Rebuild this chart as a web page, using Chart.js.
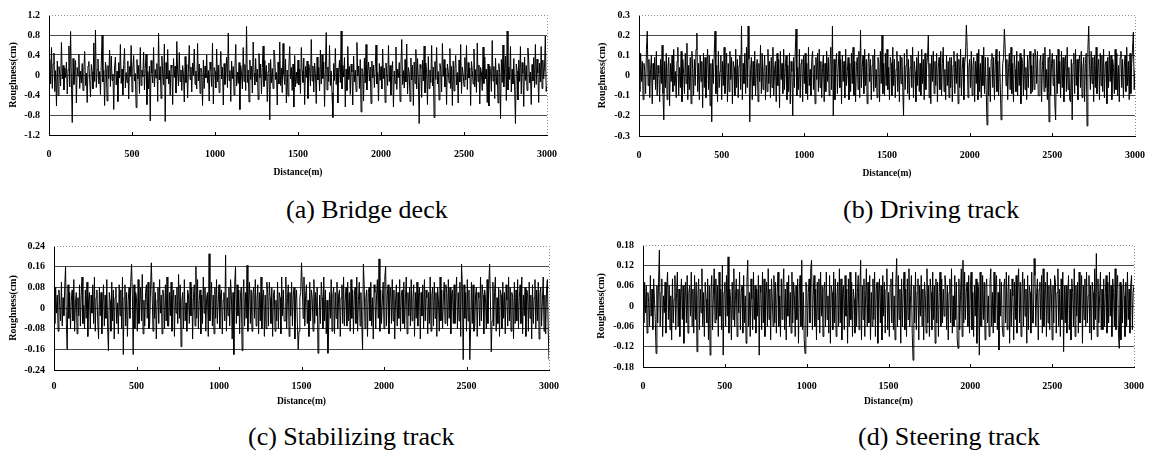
<!DOCTYPE html>
<html>
<head>
<meta charset="utf-8">
<script src="https://cdn.jsdelivr.net/npm/chart.js@4.4.1/dist/chart.umd.min.js"></script>
<style>
html, body { margin: 0; padding: 0; background: #fff; }
#page { position: relative; width: 1161px; height: 456px; overflow: hidden; }
canvas { position: absolute; }
.cap { position: absolute; font-family: 'Liberation Serif', 'Times New Roman', serif; font-size: 26px; line-height: 30px; white-space: nowrap; color: #000; }
</style>
</head>
<body>
<div id="page">
  <canvas id="chartA" width="570" height="185" style="left:0px;top:0px"></canvas>
  <canvas id="chartB" width="569" height="186" style="left:589px;top:0px"></canvas>
  <canvas id="chartC" width="569" height="189" style="left:0px;top:231px"></canvas>
  <canvas id="chartD" width="569" height="187" style="left:588px;top:230px"></canvas>
  <div class="cap" style="left:286px;top:195px">(a) Bridge deck</div>
  <div class="cap" style="left:843px;top:195px">(b) Driving track</div>
  <div class="cap" style="left:248px;top:422px">(c) Stabilizing track</div>
  <div class="cap" style="left:858px;top:422px">(d) Steering track</div>
</div>
<script>
// sampling grid, every 5 m from 0 to 3000 m
const distance = Array.from({ length: 601 }, (_, i) => i * 5);
const xTicks = [0, 500, 1000, 1500, 2000, 2500, 3000];

// roughness (cm)
const bridgeDeck = [
  .12,.31,-.18,.55,-.27,.22,.44,-.33,.09,-.62,.28,-.41,.17,.02,-.22,.65,-.08,.19,-.30,.14,
  -.05,.26,-.38,.11,.58,-.24,.87,-.12,-.95,.33,-.19,.07,.29,-.56,.15,-.02,.41,-.27,.08,-.16,
  .23,-.31,.12,.47,-.21,.04,-.55,.18,.27,-.09,-.44,.21,.06,-.28,.64,-.13,.90,-.25,.11,.32,
  -.18,.07,-.39,.24,.80,-.14,.09,-.61,.26,.13,-.52,.19,-.07,.50,-.23,.38,-.11,.02,-.69,.16,
  .36,-.20,.08,-.53,.25,-.06,.61,-.17,.12,-.40,.21,.53,-.26,.05,-.15,.28,-.48,.17,-.03,.59,
  -.34,.14,.39,-.12,.03,-.65,.31,-.08,.19,-.37,.55,-.21,.10,-.04,.46,-.30,.13,.42,-.59,.07,
  -.28,.18,-.92,.29,.04,-.16,.55,-.24,.11,-.06,.23,-.53,.84,-.10,.17,-.47,.38,.02,-.20,.62,
  -.93,.25,-.08,.51,-.18,.09,-.41,.20,.14,-.59,.33,-.05,.18,-.36,.67,.06,-.22,.45,-.13,.10,
  -.31,.19,.03,-.54,.37,-.15,.21,-.46,.12,.59,-.09,.16,-.34,.24,-.01,.52,-.19,.08,-.28,.63,
  -.12,.22,-.37,.14,.05,-.61,.30,-.27,.18,-.06,.40,-.16,.09,-.52,.26,.11,-.23,.64,-.58,.15,
  .07,-.26,.52,-.14,.20,-.35,.11,.47,-.08,.16,-.60,.23,-.19,.04,.36,-.25,.84,-.11,.09,-.53,
  .28,-.07,.17,-.40,.13,.61,-.22,.06,-.17,.25,-.69,.19,.02,-.28,.55,-.13,.21,-.31,.97,-.15,
  .10,-.54,.30,-.09,.18,-.36,.66,.04,-.20,.33,-.14,.12,-.49,.43,-.06,.22,-.38,.15,.58,-.23,
  .29,-.11,.19,-.53,.07,.24,-.90,.31,-.16,.13,-.27,.50,.37,-.09,.05,-.60,.26,-.18,.66,-.21,
  .14,-.35,.63,.01,-.19,.32,-.56,.10,-.42,.18,.57,-.08,.15,-.31,.22,-.64,.39,-.24,.06,-.17,
  .30,-.20,.12,-.37,.55,.08,-.15,.34,-.59,.17,-.05,.28,-.47,.21,.09,-.22,.71,-.12,.18,-.34,
  .24,.03,-.57,.36,-.10,.15,-.32,.50,-.18,.41,-.07,.26,-.63,.11,.85,-.30,.16,-.13,.59,-.21,
  .08,-.36,-.85,.23,-.11,.53,-.19,.14,-.56,.05,.30,-.15,.88,-.28,.19,-.04,.35,-.64,.12,-.31,
  .57,-.09,.17,-.39,.22,.06,-.60,.38,-.14,.10,-.33,.65,-.02,.18,-.27,.31,-.74,.13,.07,-.52,
  .34,-.16,.61,-.30,.09,.26,-.12,.16,-.57,.28,-.06,.20,-.25,.13,.60,-.18,.05,-.52,.23,-.11,
  .17,-.28,.52,-.07,.14,-.55,.24,.02,-.21,.59,-.13,.19,-.40,.11,.27,-.64,.08,-.17,.56,-.29,
  .12,-.05,.25,-.53,.18,.71,-.19,.09,-.26,.31,-.14,.62,-.38,.15,.04,-.53,.34,-.10,.20,-.61,
  .26,-.17,.51,-.28,.33,-.08,-.97,.21,.13,-.45,.30,-.12,.58,-.36,.24,.06,-.59,.37,-.27,.10,
  -.15,.59,-.22,.16,-.85,.27,-.09,.55,-.18,.07,-.50,.23,.12,-.34,.63,-.03,.31,-.24,.14,-.59,
  .22,.08,-.16,.53,-.27,.17,-.61,.28,-.32,.13,.39,-.20,.05,-.56,.30,-.14,.61,-.37,.16,.02,
  -.23,.35,-.10,.59,-.29,.25,-.06,.14,-.61,.27,.09,-.18,.52,-.24,.11,-.35,.64,-.13,.20,-.58,
  .15,.04,-.31,.56,-.17,.36,-.08,.12,-.55,.22,-.62,.18,.07,-.33,.69,-.12,.17,-.47,.34,-.19,
  .10,-.56,.23,.05,-.87,.31,-.15,.60,-.24,.13,.38,-.51,.88,-.30,.16,-.09,.57,-.34,.12,-.18,
  .33,-.26,-.97,.22,.08,-.50,.30,-.13,.57,-.38,.25,.03,-.63,.36,-.11,.19,-.31,.54,.28,-.16,
  .06,-.59,.21,-.12,.35,-.25,.61,-.19,.32,.04,-.55,.24,-.14,.57,-.27,.30,-.08,.15,.78,-.33,
  -.22
];
const drivingTrack = [
  .04,-.08,.11,-.03,.07,-.12,.06,.02,-.09,.13,.22,-.05,.08,-.11,.03,.10,-.14,.06,-.02,.09,
  -.07,.12,-.10,.05,.01,-.13,.08,-.04,.15,-.09,-.22,.07,-.06,.11,-.12,.04,.09,-.15,.06,-.03,
  .10,-.08,.13,-.05,.02,-.11,.07,.14,-.10,.04,-.06,.12,-.13,.08,.01,-.09,.11,-.04,.16,-.12,
  .05,-.07,.09,-.14,.12,.03,-.10,.08,-.05,.13,.21,-.08,.06,-.12,.10,-.03,.07,-.16,.11,-.06,
  .09,-.11,.04,.13,-.07,.10,-.15,.06,-.23,.08,-.04,.11,.22,-.09,.05,-.13,.12,-.06,.02,.10,
  -.12,.07,-.05,.14,-.09,.03,.11,-.13,.06,-.08,.12,-.02,.09,-.14,.07,.04,-.10,.13,-.06,.08,
  -.11,.05,.10,-.07,.245,-.12,.06,-.04,.11,-.09,.14,-.06,.245,.08,-.23,.03,.09,-.12,.07,-.05,
  .12,-.10,.04,.08,-.13,.06,-.03,.15,-.09,.11,-.07,.02,.10,-.12,.05,-.08,.13,-.04,.07,-.11,
  .09,-.06,.14,-.10,.03,.07,-.13,.11,-.05,.08,-.16,.12,-.02,.06,-.09,.13,-.07,.04,.10,-.12,
  .05,-.08,.11,-.14,.07,.02,-.20,.09,-.06,.12,.23,-.10,.04,-.07,.13,-.11,.06,.08,-.13,.10,
  -.04,.11,-.09,.06,-.12,.14,-.05,.03,-.10,.08,.12,-.07,.05,-.14,.09,-.02,.11,-.08,.13,-.06,
  .07,-.11,.04,.10,-.13,.06,-.08,.12,-.03,.09,-.10,.05,.14,-.07,.245,-.20,.08,-.12,.06,.11,
  -.09,.04,.12,-.06,.08,-.14,.10,-.03,.07,-.11,.13,-.05,.02,.09,-.12,.06,-.08,.11,-.04,.14,
  -.10,.07,-.13,.05,.09,-.07,.12,-.11,.225,-.06,.04,.10,-.09,.13,-.05,.08,-.14,.06,.11,-.03,
  .08,-.12,.05,.10,-.08,.13,-.06,.03,-.11,.09,.07,-.13,.12,-.04,.20,-.09,.06,-.10,.11,-.05,
  .13,-.07,.04,-.12,.09,.06,-.10,.14,-.05,.08,-.11,.03,.12,-.08,.07,-.13,.10,-.04,.09,-.06,
  -.20,.11,-.07,.05,.13,-.09,.08,-.12,.04,.10,-.06,.14,-.11,.07,.02,-.13,.09,-.05,.12,-.08,
  .06,-.10,.13,-.04,.08,-.12,.11,-.07,.05,.09,.20,-.11,.06,-.14,.10,-.03,.12,-.09,.07,-.05,
  .11,-.13,.04,.09,-.07,.12,-.10,.06,.14,-.08,.03,-.12,.10,-.05,.07,-.11,.09,-.06,.09,-.13,
  .05,.12,-.09,.07,-.04,.11,-.14,.08,-.06,.13,-.10,.03,.09,-.12,.06,.10,.25,.14,-.11,.04,
  .08,-.06,.12,-.10,.05,.09,-.13,.07,-.04,.11,-.12,.13,-.08,.06,-.11,.10,-.05,.14,-.09,.09,
  -.07,-.245,.09,-.10,.04,-.13,.08,.11,-.06,.09,-.12,.05,.13,-.08,.07,-.10,.12,-.04,-.22,-.14,
  .06,.09,.23,.13,-.05,.08,-.12,.04,.11,-.07,.14,-.09,.06,-.13,.10,.03,-.08,.12,-.10,.07,
  -.05,.11,-.14,.09,.06,-.10,.13,-.07,.04,-.12,.10,-.06,.08,.12,-.09,.05,-.08,.11,-.07,.13,
  .09,-.04,.12,-.10,-.10,.07,.10,-.13,.05,.11,-.08,.14,-.06,.03,-.12,.09,-.23,.13,-.10,.06,
  .11,-.05,.08,-.14,-.22,.10,-.09,.13,-.04,.07,-.11,.12,-.06,.09,-.13,.05,.10,-.08,.14,-.07,
  .04,-.12,-.13,.08,-.22,.06,.11,-.09,.13,-.05,.08,-.12,.07,.10,-.06,.12,-.11,.04,.09,-.13,
  .06,.11,-.25,.13,.245,.05,-.07,.12,-.04,.09,-.13,.10,-.06,.14,-.09,.03,.08,-.12,.11,-.05,
  .10,-.08,.13,-.11,.05,.07,-.14,.09,-.06,.12,-.03,.10,-.12,.08,.04,-.09,.13,-.07,.11,-.10,
  .05,-.13,.09,.12,-.06,.08,-.11,.04,.10,-.08,.14,-.05,.07,-.12,.11,-.09,.06,.13,.215,-.07,
  .03
];
const stabilizingTrack = [
  .03,-.06,.08,-.02,.05,-.09,.07,.01,-.05,.10,-.07,.04,-.03,.08,.16,-.06,-.16,.09,-.04,.06,
  -.08,.03,.07,-.05,.11,-.09,.02,.06,-.10,.04,-.03,.09,-.07,.05,.12,-.06,.01,-.08,.07,-.04,
  .10,-.11,.03,.06,-.08,.05,-.02,.09,-.06,.12,-.09,.04,.07,-.05,-.12,.08,-.03,.06,-.10,.02,
  .09,-.07,.05,-.04,.11,-.08,-.165,.06,.03,-.09,.10,-.05,.07,-.12,.04,.08,-.06,.02,-.10,.09,
  -.03,.07,-.08,.12,-.18,.04,.09,-.07,.06,-.11,.03,.08,-.04,.10,.17,.05,-.18,.09,-.08,.06,
  .04,-.09,.11,-.06,.02,.08,-.05,.13,-.10,.03,-.07,.06,.09,-.04,.10,-.08,-.06,.07,.175,.05,
  -.09,.10,-.04,.06,-.12,.03,.08,-.06,.11,-.02,.05,-.10,.07,.04,-.08,.09,-.05,.12,-.07,-.07,
  .06,-.03,.10,-.09,.04,.07,-.11,.05,-.02,.08,-.06,.13,-.04,.09,-.15,.03,.06,-.08,.11,-.05,
  .02,-.09,.07,.05,-.06,.10,-.03,.08,-.12,.04,.09,-.07,.16,-.04,.11,-.08,.03,.07,-.10,.05,
  -.06,.12,-.02,.08,-.09,.04,.06,-.11,.21,-.05,.03,.10,-.07,.05,-.10,.08,-.04,.11,-.06,.02,
  .09,-.08,.05,.07,-.10,.03,.06,-.05,.205,-.09,.04,-.03,.08,-.07,.11,.05,-.12,.06,-.18,.09,
  .16,-.06,.09,-.03,.07,-.10,.05,.08,-.165,.04,.11,-.07,.06,-.04,.165,-.09,.03,.10,-.06,.07,
  -.09,.05,.08,-.04,.11,-.07,.03,.09,-.10,.06,-.05,.12,-.08,.04,.07,-.11,.05,-.08,.10,.06,
  -.07,.10,.04,-.06,.08,-.11,.05,.07,-.09,.03,-.05,.10,-.08,.06,.04,-.10,.12,-.03,.07,-.05,
  -.05,.12,-.08,.04,.09,-.11,.06,-.03,.10,-.07,.05,.08,-.12,.03,.07,-.06,-.16,-.09,.04,.06,
  .175,.08,-.04,.12,-.07,.05,.09,-.06,.03,-.11,.10,-.05,.07,.04,-.09,.11,-.06,.06,-.03,.08,
  -.175,-.09,.05,-.06,.10,.04,-.08,.12,-.05,.07,-.10,.03,-.175,-.07,.06,-.04,.11,-.09,.05,.08,
  -.10,.06,-.04,.10,-.08,.05,.07,-.11,.04,.09,-.06,.12,-.07,.03,.08,-.07,.10,-.05,.06,-.09,
  .11,-.04,.07,-.10,.05,.08,-.06,.12,-.09,.03,.10,-.07,.06,-.05,-.16,.17,.09,-.08,.04,.07,
  -.11,.06,.08,-.05,.10,-.07,.04,-.12,.09,.06,-.08,.05,.11,-.04,.19,-.09,.07,-.06,.03,.10,
  -.08,.12,.16,-.07,.05,.09,-.10,.04,.08,-.06,.11,-.05,.07,-.12,.03,.09,-.07,.06,-.04,.11,
  -.09,.05,.07,-.06,.10,-.08,.04,.12,-.10,.06,-.03,.08,-.07,.11,-.05,.04,.09,-.11,.06,-.04,
  .10,-.07,.05,.08,-.12,.06,-.03,.09,-.08,.11,-.05,.07,.04,-.10,.06,-.06,.12,-.09,.05,.08,
  -.07,.10,-.04,.06,-.11,.08,.03,-.09,.12,-.05,.07,-.08,.04,.10,-.06,.09,.06,-.07,.11,-.04,
  .08,-.10,.05,.07,-.06,.09,-.06,.04,.12,-.08,.06,-.05,.10,-.11,.17,.08,-.20,.09,-.04,.06,
  -.09,.11,-.05,.07,-.20,-.08,.10,-.06,.09,-.09,-.07,.05,.08,-.11,.06,.04,-.07,.12,-.05,.09,
  .05,-.10,.07,.04,-.08,.11,-.06,.09,.17,.03,-.17,-.05,.10,-.07,.06,.12,-.09,.04,-.06,.08,
  -.11,.07,.05,-.08,.10,-.04,.06,-.10,.09,.03,-.07,.12,-.05,.08,-.09,.06,.04,-.12,.10,-.06,
  .07,-.05,.11,-.08,.04,.09,-.06,.12,-.10,.05,-.03,.08,-.11,.07,.06,-.09,.10,-.04,.05,-.12,
  .09,-.06,.04,.11,-.08,.07,-.05,.10,-.12,.06,.08,-.07,.03,.12,-.09,.05,-.10,.07,.11,-.08,
  -.20
];
const steeringTrack = [
  .03,-.05,.07,-.02,.06,-.08,.04,.01,-.06,.09,-.03,.05,-.07,.08,.02,-.04,-.14,.06,-.05,.07,
  .165,-.06,.04,.08,-.09,.03,-.02,.07,-.08,.05,.10,-.04,.06,-.07,.03,-.10,.08,-.05,.02,.09,
  -.07,.04,.10,-.06,.05,-.09,.03,.08,-.04,.06,-.11,.02,.07,-.05,.09,-.08,.04,.06,-.03,.10,
  -.06,.05,-.08,.09,-.04,.07,-.135,.03,.08,-.07,.05,-.02,.11,-.06,.04,-.09,.07,.02,-.05,.08,
  -.10,.06,-.145,.04,.09,-.07,.03,.11,-.05,.08,-.04,.06,-.09,.10,-.03,.05,-.07,.12,-.145,.04,
  .07,-.06,.09,-.03,.145,-.08,.05,.02,-.10,.07,-.04,.11,-.06,.03,.08,-.09,.05,-.02,.10,-.07,
  .04,.06,-.08,.09,-.05,.03,-.11,.07,.135,-.06,.04,-.09,.08,.02,-.07,.10,-.04,.06,-.08,.05,
  -.03,.09,-.145,.06,.04,-.07,.10,-.05,.08,-.09,.03,.07,-.06,.11,-.04,.05,-.10,.08,.02,-.06,
  .09,-.05,.07,-.08,.04,.10,-.06,.03,-.09,.08,-.04,.06,.11,-.07,.05,-.10,.07,-.03,.09,-.06,
  .04,-.08,.10,-.05,.07,.03,-.09,.06,-.04,.08,-.11,.05,.09,-.06,.135,-.07,.04,-.10,-.14,.07,
  .06,-.09,.04,.08,-.05,.11,.135,-.07,.03,.09,-.06,.05,-.10,.07,-.04,.08,-.08,.10,-.03,.06,
  -.09,.05,.07,-.06,.10,-.04,.03,-.08,.09,-.11,.06,.04,-.07,.10,-.05,.08,-.09,.03,.07,-.06,
  .11,-.05,.08,-.10,.04,.06,-.07,.09,-.03,.05,-.11,.08,-.06,.10,-.04,.07,-.09,.05,.02,-.08,
  .10,-.06,.04,.09,-.07,.05,.135,-.10,.06,-.04,.08,-.09,.03,.11,-.06,.07,-.05,.09,-.10,.04,
  -.06,.08,-.04,.10,-.09,.05,.07,-.11,.03,.08,-.05,.06,-.10,.09,-.03,.07,-.08,.05,.11,-.07,
  .04,-.09,.06,.08,-.05,.10,-.07,.03,-.10,.07,.14,-.06,.09,-.04,.05,-.11,.08,-.06,.04,.10,
  -.07,.05,-.09,.08,-.04,.11,-.06,.03,.09,-.08,-.16,.06,-.05,.10,-.07,.04,.08,-.10,.06,-.03,
  .09,-.06,.05,-.10,.07,.03,-.08,.11,-.05,.06,-.09,.08,.04,-.07,.10,-.04,.06,-.11,.08,-.05,
  .07,-.09,.04,.10,-.06,.08,-.05,.05,-.03,.09,.06,-.07,.06,-.10,.04,.08,-.05,.11,-.08,.03,
  -.06,.09,-.04,.07,-.10,-.125,.08,-.07,.03,.11,-.09,.135,-.05,.10,-.04,.04,.07,-.06,.09,-.08,
  .05,.10,-.07,.04,-.09,.06,-.03,.08,-.11,.07,.05,-.145,.10,-.06,-.06,.09,-.04,.07,-.10,.06,
  .08,-.05,.03,-.09,.07,.11,-.06,.04,-.08,.10,-.05,.06,.09,-.07,.04,-.13,.08,-.03,.07,-.06,
  -.09,.06,.08,-.05,.10,-.07,.04,.09,-.11,.05,-.06,.08,.03,-.10,.07,-.04,.09,-.08,.06,.11,
  -.05,.07,-.09,.04,.10,-.06,.08,-.03,.05,-.11,.09,-.07,.06,.04,-.08,.10,-.05,-.05,.14,.09,
  -.06,.04,.08,-.10,.05,.07,-.04,.09,-.08,.11,-.06,.03,.07,-.09,.10,-.05,.06,-.07,.08,.04,
  -.10,.06,-.05,.09,.07,-.08,.04,.11,-.06,.05,-.09,.08,-.04,.10,-.135,.06,-.05,.06,-.08,.03,
  .09,-.07,.05,-.10,.08,.04,-.06,.11,-.09,.06,-.03,.07,-.08,.10,-.05,.04,.09,-.11,.06,-.04,
  .08,-.06,.10,-.05,.03,.09,-.08,.06,-.10,.07,.04,-.07,.11,-.04,.155,-.09,.08,-.05,.03,.10,
  -.07,.05,-.07,.08,-.06,.04,.09,-.08,.07,-.05,.10,-.03,.06,-.09,.08,.04,-.06,.11,-.07,.05,
  .09,-.08,-.125,.07,-.10,.06,-.05,.08,.03,-.09,.07,-.06,.10,-.04,.05,-.08,.06,.09,-.07,.04,
  .06
];

const yTicksA = [-1.2, -0.8, -0.4, 0, 0.4, 0.8, 1.2];
const yTicksB = [-0.3, -0.2, -0.1, 0, 0.1, 0.2, 0.3];
const yTicksC = [-0.24, -0.16, -0.08, 0, 0.08, 0.16, 0.24];
const yTicksD = [-0.18, -0.12, -0.06, 0, 0.06, 0.12, 0.18];

const serif = "'Liberation Serif', 'Times New Roman', serif";

// dotted top/right frame and the small inward ticks on the distance axis
const framePlugin = {
  id: 'frame',
  afterDraw(chart) {
    const { ctx, chartArea: a, scales } = chart;
    ctx.save();
    ctx.strokeStyle = '#8a8a8a';
    ctx.lineWidth = 1;
    ctx.setLineDash([1, 2]);
    ctx.beginPath();
    ctx.moveTo(a.left, a.top + 0.5);
    ctx.lineTo(a.right + 0.5, a.top + 0.5);
    ctx.lineTo(a.right + 0.5, a.bottom);
    ctx.stroke();
    ctx.setLineDash([]);
    ctx.strokeStyle = '#000';
    ctx.beginPath();
    xTicks.slice(1, -1).forEach(v => {
      const px = Math.round(scales.x.getPixelForValue(v)) + 0.5;
      ctx.moveTo(px, a.bottom);
      ctx.lineTo(px, a.bottom - 3);
    });
    ctx.stroke();
    ctx.restore();
  }
};

function drawPanel(id, values, yTicks, opt) {
  const yMax = yTicks[yTicks.length - 1];
  new Chart(document.getElementById(id), {
    type: 'line',
    data: {
      datasets: [{
        data: values.map((v, i) => ({ x: distance[i], y: v })),
        borderColor: '#000',
        borderWidth: 1,
        pointRadius: 0,
        tension: 0,
        fill: false
      }]
    },
    options: {
      responsive: false,
      animation: false,
      devicePixelRatio: 1,
      layout: { padding: { top: 15, right: 12, left: 0, bottom: 0 } },
      plugins: { legend: { display: false }, tooltip: { enabled: false } },
      scales: {
        x: {
          type: 'linear',
          min: 0,
          max: 3000,
          afterBuildTicks: s => { s.ticks = xTicks.map(v => ({ value: v })); },
          afterFit: s => { s.height = 50; },
          grid: { display: false, drawTicks: false },
          border: { display: true, color: '#000', width: 1 },
          ticks: {
            padding: opt.xPad,
            color: '#000',
            maxRotation: 0,
            font: { family: serif, size: 10, weight: 'bold' },
            callback: v => String(v)
          },
          title: {
            display: true,
            text: 'Distance(m)',
            color: '#000',
            font: { family: serif, size: 9.5, weight: 'bold' },
            padding: { top: 0, bottom: opt.titlePad }
          }
        },
        y: {
          min: yTicks[0],
          max: yMax,
          afterBuildTicks: s => { s.ticks = yTicks.map(v => ({ value: v })); },
          afterFit: s => { s.width = opt.yWidth; },
          grid: {
            drawTicks: false,
            lineWidth: 1,
            color: c => (c.tick && c.tick.value === yMax) ? 'rgba(0,0,0,0)' : '#4a4a4a'
          },
          border: { display: true, color: '#000', width: 1 },
          ticks: {
            padding: 9,
            color: '#000',
            font: { family: serif, size: 10, weight: 'bold' },
            callback: v => String(v)
          },
          title: {
            display: true,
            text: 'Roughness(cm)',
            color: '#000',
            font: { family: serif, size: 10, weight: 'bold' },
            padding: { top: 7, bottom: 0 }
          }
        }
      }
    },
    plugins: [framePlugin]
  });
}

drawPanel('chartA', bridgeDeck, yTicksA, { yWidth: 49, xPad: 13, titlePad: 7 });
drawPanel('chartB', drivingTrack, yTicksB, { yWidth: 50, xPad: 13, titlePad: 7 });
drawPanel('chartC', stabilizingTrack, yTicksC, { yWidth: 54, xPad: 10, titlePad: 13 });
drawPanel('chartD', steeringTrack, yTicksD, { yWidth: 55, xPad: 13, titlePad: 10 });
</script>
</body>
</html>
